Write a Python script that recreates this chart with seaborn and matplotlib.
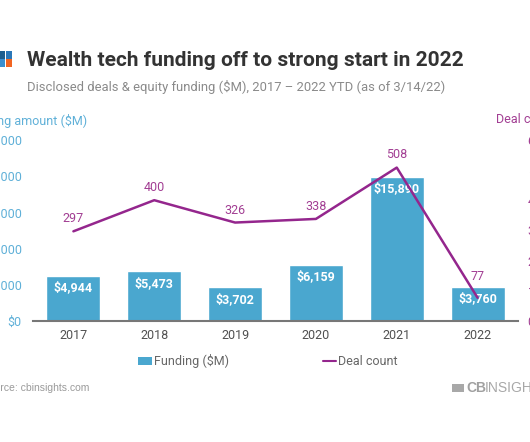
import matplotlib
matplotlib.use("Agg")
import matplotlib.pyplot as plt
from matplotlib.patches import Rectangle, Patch
from matplotlib.lines import Line2D
import seaborn as sns
import numpy as np
import pandas as pd

years = ["2017", "2018", "2019", "2020", "2021", "2022"]
funding = [4944, 5473, 3702, 6159, 15890, 3760]
deals = [297, 400, 326, 338, 508, 77]
left_ticks = [0, 4000, 8000, 12000, 16000, 20000]
right_ticks = [0, 100, 200, 300, 400, 500, 600]

BAR = "#4aa7cf"
LINE = "#94268d"
LBLUE = "#5fb0d8"
PURP = "#a23e93"

sns.set_theme(style="white")
plt.rcParams["font.family"] = ["Roboto", "DejaVu Sans"]

W, H = 530, 442
fig = plt.figure(figsize=(W / 100, H / 100), dpi=100)
ax = fig.add_axes([33 / W, 121 / H, 485 / W, 181.2 / H])

df = pd.DataFrame({"year": years, "funding": funding, "deals": deals})
sns.barplot(data=df, x="year", y="funding", color=BAR, saturation=1, width=0.67, ax=ax)
ax.set_ylim(0, 20000)
ax.set_xlim(-0.5, 5.5)
ax.set_xlabel("")
ax.set_ylabel("")
ax.set_yticks(left_ticks)
ax.set_yticklabels(["$" + f"{v:,}" for v in left_ticks], color=LBLUE, fontsize=9)
ax.tick_params(axis="y", length=0, pad=8)
ax.tick_params(axis="x", length=0, pad=6, labelsize=9, labelcolor="#505050")
for s in ["left", "right", "top"]:
    ax.spines[s].set_visible(False)
ax.spines["bottom"].set_color("#777777")
ax.spines["bottom"].set_linewidth(1.5)

for i, v in enumerate(funding):
    ax.annotate("$" + f"{v:,}", (i, v), xytext=(0, -8.5), textcoords="offset points",
                ha="center", va="center", color="white", fontsize=9, fontweight="bold")

ax2 = ax.twinx()
sns.lineplot(x=np.arange(len(years)), y=deals, color=LINE, linewidth=1.8, ax=ax2)
ax2.set_ylim(0, 600)
ax2.set_yticks(right_ticks)
ax2.set_yticklabels([str(v) for v in right_ticks], color=PURP, fontsize=9)
ax2.tick_params(axis="y", length=0, pad=7)
for s in ["left", "right", "top", "bottom"]:
    ax2.spines[s].set_visible(False)
ax2.set_ylabel("")
offs = [9, 9, 9, 9, 9.5, 15]
for i, v in enumerate(deals):
    ax2.annotate(str(v), (i, v), xytext=(0, offs[i]), textcoords="offset points",
                 ha="center", va="center", color=PURP, fontsize=9)

# axis titles
fig.text(87 / W, 1 - 121 / H, "Funding amount ($M)", ha="right", va="center", color=LBLUE, fontsize=9)
fig.text(496 / W, 1 - 120 / H, "Deal count", ha="left", va="center", color=PURP, fontsize=9)

# title block
fig.text(27 / W, 1 - 61 / H, "Wealth tech funding off to strong start in 2022", ha="left", va="center",
         fontsize=15, fontweight="bold", color="#333333")
fig.text(27 / W, 1 - 87 / H, "Disclosed deals & equity funding ($M), 2017 \u2013 2022 YTD (as of 3/14/22)",
         ha="left", va="center", fontsize=9.35, color="#8a8a8a")

# logo squares
for (x0, y0, c) in [(-1, 51, "#1d5e8e"), (-1, 59.5, "#3a8fd0"), (5.5, 59.5, "#f26522"), (5.5, 51, "#2b78b8")]:
    fig.add_artist(Rectangle((x0 / W, 1 - (y0 + 7.5) / H), 6 / W, 7.5 / H, transform=fig.transFigure,
                             color=c, lw=0))

# legend
handles = [Patch(facecolor=BAR, edgecolor="none"), Line2D([0], [0], color=LINE, lw=1.5)]
fig.legend(handles, ["Funding ($M)", "Deal count"], loc="center", bbox_to_anchor=(268 / W, 1 - 361 / H),
           ncol=2, frameon=False, fontsize=9, labelcolor="#666666", handlelength=1.1, handleheight=0.6,
           handletextpad=0.15, columnspacing=7.5, borderpad=0, borderaxespad=0)

# footer
fig.text(-18.5 / W, 1 - 388 / H, "Source: cbinsights.com", ha="left", va="center", fontsize=7.5,
         color="#9a9a9a", family=["Liberation Sans", "DejaVu Sans"])
fig.add_artist(Rectangle((452 / W, 1 - 392 / H), 12 / W, 8 / H, transform=fig.transFigure,
                         color="#a8a8a8", lw=0))
fig.text(466 / W, 1 - 388 / H, "CB", ha="left", va="center", fontsize=10, fontweight="bold",
         color="#a0a0a0", family=["Liberation Sans", "DejaVu Sans"])
fig.text(485 / W, 1 - 388 / H, "INSIGHTS", ha="left", va="center", fontsize=10,
         color="#a8a8a8", family=["Liberation Sans", "DejaVu Sans"])

fig.savefig("out.png", dpi=100, facecolor="white")
